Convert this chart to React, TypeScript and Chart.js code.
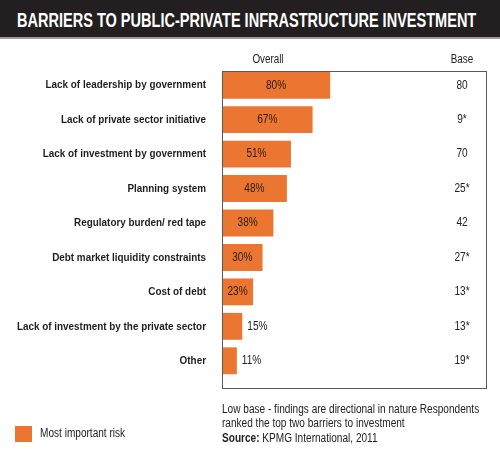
import React, { useEffect, useRef } from "react";
import { Chart, registerables } from "chart.js";

Chart.register(...registerables);

const categories = [
  "Lack of leadership by government",
  "Lack of private sector initiative",
  "Lack of investment by government",
  "Planning system",
  "Regulatory burden/ red tape",
  "Debt market liquidity constraints",
  "Cost of debt",
  "Lack of investment by the private sector",
  "Other",
];
const overallValues = [80, 67, 51, 48, 38, 30, 23, 15, 11];
const baseLabels = ["80", "9*", "70", "25*", "42", "27*", "13*", "13*", "19*"];
const seriesName = "Most important risk";
const titleText = "BARRIERS TO PUBLIC-PRIVATE INFRASTRUCTURE INVESTMENT";

const FONT = "'Liberation Sans', Arial, Helvetica, sans-serif";
const ORANGE = "#eb7631";
const SX = 0.84;

function drawText(ctx: any, text: string, x: number, y: number, align: string, font: string, sx: number, color: string) {
  ctx.save();
  ctx.translate(x, y);
  ctx.scale(sx, 1);
  ctx.font = font;
  ctx.fillStyle = color;
  ctx.textAlign = align;
  ctx.textBaseline = "middle";
  ctx.fillText(text, 0, 0);
  ctx.restore();
}

const overlayPlugin = {
  id: "overlay",
  afterDatasetsDraw(chart: any) {
    const { ctx, chartArea, scales } = chart;
    const x = scales.x;
    const y = scales.y;
    ctx.save();
    ctx.strokeStyle = "#5a5a5a";
    ctx.lineWidth = 1;
    ctx.strokeRect(
      chartArea.left + 0.5,
      chartArea.top + 3.5,
      chartArea.right - chartArea.left - 1,
      chartArea.bottom - chartArea.top + 7
    );
    ctx.restore();
    const reg = `12px ${FONT}`;
    const baseX = chartArea.right - 25;
    drawText(ctx, "Overall", x.getPixelForValue(34), chartArea.top - 8.5, "center", reg, 0.82, "#222");
    drawText(ctx, "Base", baseX, chartArea.top - 8.5, "center", reg, 0.82, "#222");
    categories.forEach((label, i) => {
      const yc = y.getPixelForValue(i);
      drawText(ctx, label, chartArea.left - 16, yc, "right", `bold 11.5px ${FONT}`, 0.86, "#1e1e1e");
      const v = overallValues[i];
      const x0 = x.getPixelForValue(0);
      const x1 = x.getPixelForValue(v);
      if (v >= 20) {
        drawText(ctx, v + "%", (x0 + x1) / 2, yc, "center", reg, SX, "#2a1a10");
      } else {
        drawText(ctx, v + "%", x1 + 5, yc, "left", reg, SX, "#222");
      }
      drawText(ctx, baseLabels[i], baseX, yc, "center", reg, SX, "#222");
    });
  },
};

export default function App() {
  const ref = useRef<HTMLCanvasElement | null>(null);
  useEffect(() => {
    if (!ref.current) return;
    const chart = new Chart(ref.current, {
      type: "bar",
      data: {
        labels: categories,
        datasets: [
          {
            label: seriesName,
            data: overallValues,
            backgroundColor: ORANGE,
            borderWidth: 0,
            barPercentage: 1,
            categoryPercentage: 0.78,
          },
        ],
      },
      options: {
        indexAxis: "y",
        animation: false,
        responsive: false,
        layout: { padding: { top: 68, bottom: 77, right: 13, left: 0 } },
        plugins: {
          legend: { display: false },
          tooltip: { enabled: false },
        },
        scales: {
          x: {
            display: false,
            min: 0,
            max: 196,
          },
          y: {
            grid: { display: false },
            border: { display: false },
            ticks: { display: false },
            afterFit(scale: any) {
              scale.width = 222;
            },
          },
        },
      },
      plugins: [overlayPlugin],
    });
    return () => chart.destroy();
  }, []);

  const scaled = (sx: number): React.CSSProperties => ({
    transform: `scaleX(${sx})`,
    transformOrigin: "0 0",
    whiteSpace: "nowrap",
  });

  return (
    <div style={{ position: "absolute", left: 0, top: 0, width: 500, height: 455, background: "#fff", fontFamily: FONT, overflow: "hidden" }}>
      <div
        style={{
          position: "absolute",
          left: 0,
          top: 0,
          width: 500,
          height: 37,
          background: "#231f20",
          borderBottom: "2px solid #9a9a9a",
        }}
      />
      <div
        style={{
          position: "absolute",
          left: 17,
          top: 1.5,
          color: "#fff",
          fontWeight: "bold",
          fontSize: 19.5,
          lineHeight: "37px",
          ...scaled(0.745),
        }}
      >
        {titleText}
      </div>
      <canvas ref={ref} width={500} height={455} style={{ position: "absolute", left: 0, top: 0, width: 500, height: 455 }} />
      <div style={{ position: "absolute", left: 15, top: 426, width: 17, height: 16, background: ORANGE }} />
      <div style={{ position: "absolute", left: 40, top: 425, fontSize: 12, lineHeight: "16px", color: "#222", ...scaled(SX) }}>
        {seriesName}
      </div>
      <div style={{ position: "absolute", left: 222, top: 401.5, fontSize: 12, lineHeight: "14.5px", color: "#222", ...scaled(SX) }}>
        Low base - findings are directional in nature Respondents
        <br />
        ranked the top two barriers to investment
        <br />
        <b>Source:</b> KPMG International, 2011
      </div>
    </div>
  );
}
